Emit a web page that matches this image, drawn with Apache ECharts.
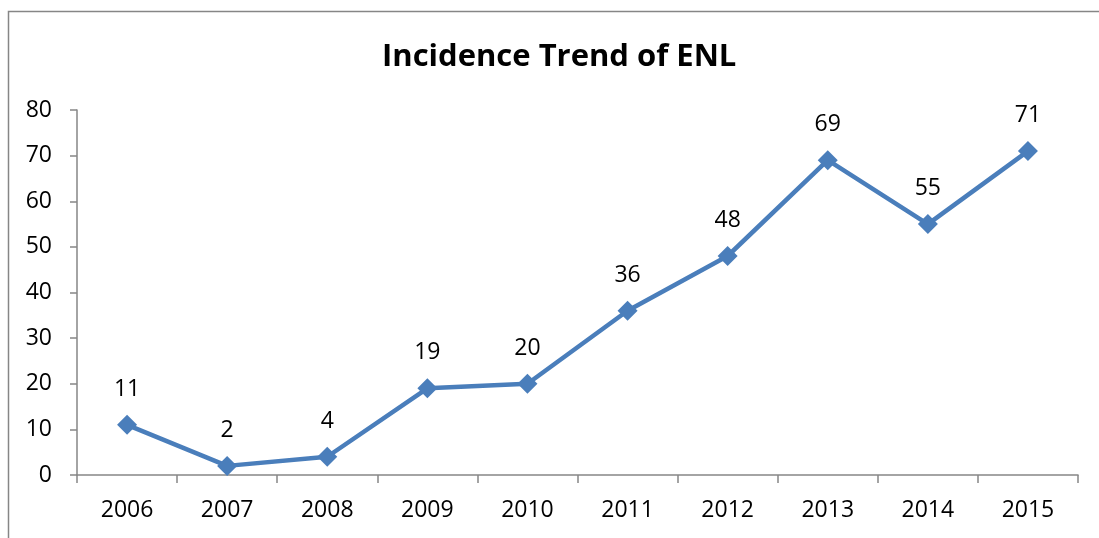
<!DOCTYPE html>
<html><head><meta charset="utf-8">
<script src="https://cdn.jsdelivr.net/npm/echarts@6/dist/echarts.min.js"></script>
<style>html,body{margin:0;padding:0;background:#fff}#c{width:1099px;height:538px}</style>
</head><body><div id="c"></div>
<script>
var categories = ['2006','2007','2008','2009','2010','2011','2012','2013','2014','2015'];
var values = [11, 2, 4, 19, 20, 36, 48, 69, 55, 71];
var yTicks = [0, 10, 20, 30, 40, 50, 60, 70, 80];
var titleText = 'Incidence Trend of ENL';

var chart = echarts.init(document.getElementById('c'));
var font = '"Open Sans", "Noto Sans", sans-serif';
chart.setOption({
  animation: false,
  backgroundColor: '#fff',
  title: { text: titleText, left: 377, top: 37,
    textStyle: { fontFamily: font, fontWeight: 'bold', fontSize: 31, color: '#000' } },
  graphic: [{ type: 'rect', silent: true, shape: { x: 8.5, y: 11.5, width: 1300, height: 700 },
    style: { fill: 'none', stroke: '#868686', lineWidth: 1.5 } }],
  grid: { left: 77, right: 21, top: 110, bottom: 63, containLabel: false },
  xAxis: { type: 'category', data: categories, boundaryGap: true,
    axisLine: { lineStyle: { color: '#868686', width: 1.5 } },
    axisTick: { show: true, length: 8, lineStyle: { color: '#868686', width: 1.5 } },
    axisLabel: { fontFamily: font, fontSize: 23, color: '#000', margin: 24 } },
  yAxis: { type: 'value', min: yTicks[0], max: yTicks[yTicks.length-1], interval: 10,
    splitLine: { show: false },
    axisLine: { show: true, lineStyle: { color: '#868686', width: 1.5 } },
    axisTick: { show: true, length: 7, lineStyle: { color: '#868686', width: 1.5 } },
    axisLabel: { fontFamily: font, fontSize: 23, color: '#000', margin: 25 } },
  series: [{ type: 'line', data: values,
    lineStyle: { color: '#4A7EBB', width: 4.5 },
    itemStyle: { color: '#4A7EBB' },
    symbol: 'diamond', symbolSize: 20, showAllSymbol: true,
    label: { show: true, position: 'top', distance: 14, fontFamily: font, fontSize: 23, color: '#000' } }]
});
</script></body></html>
